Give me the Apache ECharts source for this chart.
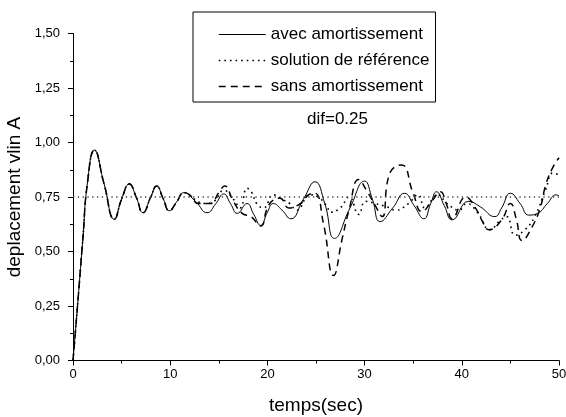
<!DOCTYPE html>
<html><head><meta charset="utf-8">
<script src="https://cdn.jsdelivr.net/npm/echarts@6/dist/echarts.min.js"></script>
<style>html,body{margin:0;padding:0;background:#fff}#c{width:566px;height:417px}</style>
</head><body><div id="c"></div>
<script>
// ---- data ----
const tAvec = [0,0.5,1.0,1.5,2.2,3.2,4.25,5.0,5.8,6.5,7.2,8.0,8.6,9.3,9.9,10.7,11.4,12.6,13.8,14.7,15.5,16.2,16.9,17.9,18.6,19.3,20.0,20.6,21.5,22.4,23.7,24.9,25.9,26.9,28.5,30.0,30.8,31.6,32.9,34.1,35.1,36.1,36.8,37.4,38.2,39.0,40.7,41.9,43.4,44.1,45.0,46.0,46.9,47.8,48.8,49.7,50];
const vAvec = [0,0.27,0.55,0.82,0.965,0.81,0.648,0.74,0.81,0.75,0.678,0.75,0.80,0.74,0.687,0.73,0.77,0.73,0.678,0.72,0.764,0.72,0.675,0.72,0.67,0.62,0.68,0.72,0.69,0.65,0.74,0.82,0.72,0.56,0.70,0.823,0.74,0.637,0.70,0.767,0.71,0.65,0.72,0.774,0.71,0.645,0.73,0.705,0.66,0.70,0.767,0.72,0.667,0.675,0.72,0.76,0.755];

const tRef = [0,0.5,1.0,1.5,2.2,3.2,4.25,5.0,5.8,6.5,7.2,8.0,8.6,9.3,9.9,10.7,11.4,12.5,13.5,14.5,15.5,16.5,17.2,17.9,18.4,18.9,19.6,20.6,21.5,22.3,23.0,24.4,25.2,26.1,26.5,27.5,28.4,29.4,30.1,31.1,32.3,33.2,34.5,35.5,36.2,37.5,38.5,39.7,40.5,41.6,42.9,43.9,44.6,45.5,46.5,47.5,48.6,49.4,50];
const vRef = [0,0.27,0.55,0.82,0.965,0.81,0.648,0.74,0.81,0.75,0.678,0.75,0.80,0.74,0.687,0.73,0.77,0.74,0.72,0.73,0.78,0.74,0.70,0.79,0.77,0.72,0.70,0.76,0.74,0.72,0.69,0.76,0.75,0.71,0.68,0.70,0.75,0.67,0.73,0.72,0.705,0.69,0.72,0.76,0.70,0.76,0.72,0.69,0.72,0.68,0.60,0.64,0.66,0.575,0.60,0.66,0.78,0.86,0.85];

const tSans = [0,0.5,1.0,1.5,2.2,3.2,4.25,5.0,5.8,6.5,7.2,8.0,8.6,9.3,9.9,10.7,11.4,12.0,12.9,14.1,15.0,15.6,16.5,17.4,18.3,19.3,20.0,20.6,21.3,22.2,23.4,24.4,24.9,25.8,26.8,27.7,28.4,29.4,30.2,31.1,31.8,32.6,33.8,35.0,35.9,36.9,37.8,38.4,39.0,40.4,41.4,42.1,42.8,44.1,45.0,45.6,46.2,47.2,48.1,48.6,49.3,50];
const vSans = [0,0.27,0.55,0.82,0.965,0.81,0.648,0.74,0.81,0.75,0.678,0.75,0.80,0.74,0.687,0.73,0.77,0.76,0.72,0.72,0.77,0.80,0.73,0.675,0.66,0.617,0.70,0.736,0.744,0.70,0.72,0.764,0.767,0.62,0.39,0.56,0.69,0.83,0.78,0.71,0.66,0.86,0.897,0.767,0.683,0.73,0.774,0.72,0.65,0.75,0.70,0.64,0.60,0.645,0.72,0.65,0.55,0.61,0.705,0.80,0.88,0.93];

const refLevel = 0.75;
const seriesNames = ['avec amortissement','solution de référence','sans amortissement'];
const xTitle = 'temps(sec)';
const yTitle = 'deplacement vlin A';
const note = 'dif=0.25';

const pairs = (t, v) => t.map((x, i) => [x, v[i]]);
const fmt = v => v.toFixed(2).replace('.', ',');

const chart = echarts.init(document.getElementById('c'), null, {renderer: 'canvas'});
const font = 'Liberation Sans, Arial, sans-serif';
chart.setOption({
  animation: false,
  backgroundColor: '#fff',
  textStyle: {fontFamily: font},
  title: {text: note, left: 302, top: 106, textStyle: {fontSize: 17, fontWeight: 'normal', color: '#000', fontFamily: font}},
  legend: {
    data: [
      {name: seriesNames[0], lineStyle: {width: 1}},
      {name: seriesNames[1], lineStyle: {width: 1.3}},
      {name: seriesNames[2], lineStyle: {width: 1.5}}
    ],
    orient: 'vertical', left: 193, top: 12,
    padding: [14, 6, 7, 25], itemGap: 9, itemWidth: 47, itemHeight: 15,
    borderColor: '#000', borderWidth: 1, backgroundColor: '#fff',
    itemStyle: {opacity: 0},
    textStyle: {fontSize: 17, color: '#000', fontFamily: font}
  },
  grid: {left: 73, right: 7, top: 33.5, bottom: 56.5, containLabel: false, outerBoundsMode: 'none'},
  xAxis: {
    type: 'value', min: 0, max: 50, interval: 10,
    name: xTitle, nameLocation: 'middle', nameGap: 36,
    nameTextStyle: {fontSize: 19, color: '#000', fontFamily: font},
    axisLine: {lineStyle: {color: '#000', width: 1}},
    axisTick: {length: 5, lineStyle: {color: '#000'}},
    minorTick: {show: true, splitNumber: 2, length: 3, lineStyle: {color: '#000'}},
    axisLabel: {fontSize: 13, color: '#000', margin: 7, fontFamily: font},
    splitLine: {show: false}
  },
  yAxis: {
    type: 'value', min: 0, max: 1.5, interval: 0.25,
    name: yTitle, nameLocation: 'middle', nameGap: 43, nameRotate: 90,
    nameTextStyle: {fontSize: 19, color: '#000', fontFamily: font},
    axisLine: {show: true, lineStyle: {color: '#000', width: 1}},
    axisTick: {show: true, length: 5, lineStyle: {color: '#000'}},
    minorTick: {show: true, splitNumber: 2, length: 3, lineStyle: {color: '#000'}},
    axisLabel: {fontSize: 13, color: '#000', margin: 13, formatter: fmt, fontFamily: font},
    splitLine: {show: false}
  },
  series: [
    {name: seriesNames[0], type: 'line', data: pairs(tAvec, vAvec), smooth: 0.5, symbol: 'none',
     lineStyle: {color: '#000', width: 1, type: 'solid'}, itemStyle: {color: '#000'}},
    {name: seriesNames[1], type: 'line', data: pairs(tRef, vRef), smooth: 0.5, symbol: 'none',
     lineStyle: {color: '#000', width: 1.6, type: [1.6, 4]}, itemStyle: {color: '#000'}},
    {name: seriesNames[2], type: 'line', data: pairs(tSans, vSans), smooth: 0.5, symbol: 'none',
     lineStyle: {color: '#000', width: 1.5, type: [7, 5]}, itemStyle: {color: '#000'}},
    {name: 'niveau', type: 'line', data: [[0, refLevel], [50, refLevel]], symbol: 'none', silent: true,
     lineStyle: {color: '#444', width: 1.3, type: [1.3, 3.5]}}
  ]
});
</script></body></html>
